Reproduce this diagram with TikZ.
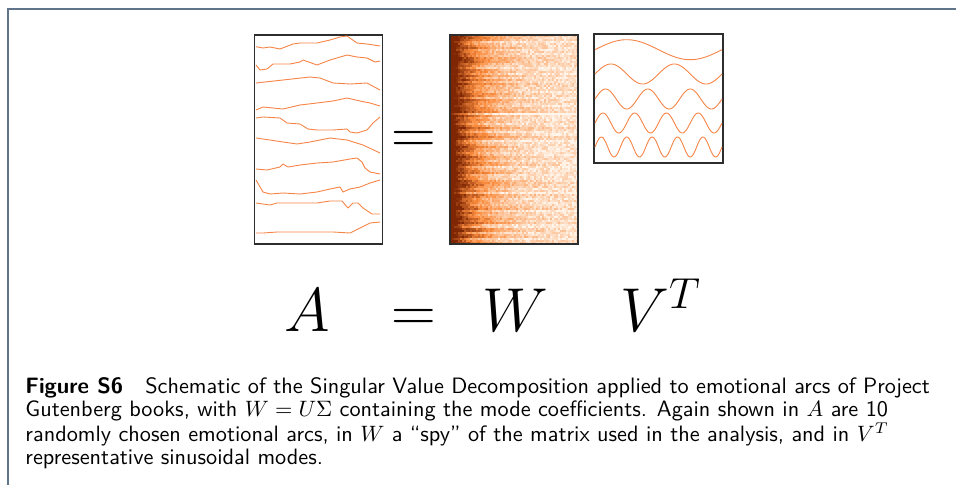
\RequirePackage{fix-cm}
\documentclass[tikz,border=0pt]{standalone}
\usepackage{xcolor}
\usepackage{tikz}
\usetikzlibrary{positioning}
\definecolor{framegray}{RGB}{96,116,140}
\definecolor{boxedge}{RGB}{45,45,45}
\definecolor{arcorange}{RGB}{246,132,70}
\definecolor{orpale}{RGB}{255,245,235}
\definecolor{ormid}{RGB}{250,140,62}
\definecolor{ordark}{RGB}{127,39,4}
\tikzset{
 matbox/.style={
 rectangle,
 draw=boxedge,
 line width=1.4pt,
 inner sep=0pt
 },
 arcline/.style={draw=arcorange, line width=0.9pt, line join=round},
 bigsym/.style={inner sep=0pt, font=\fontsize{62}{70}\selectfont},
 captext/.style={align=left, inner sep=0pt, scale=2.225, transform shape,
 font=\fontsize{10}{8.67}\selectfont\sffamily}
}

\begin{document}
\begin{tikzpicture}[x=1pt, y=-1pt]
 \useasboundingbox (0,0) rectangle (956,485);
 \draw[framegray, line width=1.2pt] (956,9) -- (8,9) -- (8,485);

 % spy of W
 \pgfmathsetseed{4217}
 \foreach \r in {0,...,103} {
 \pgfmathsetmacro\rowshift{5*rand}
 \pgfmathsetmacro\rowlen{0.13+0.16*rnd}
 \pgfmathsetmacro\rowgap{rnd}
 \ifdim\rowgap pt<0.025pt \pgfmathsetmacro\rowshift{-35}\fi
 \foreach \c in {0,...,63} {
 \pgfmathsetmacro\v{max(0,min(100,120*exp(-((\c+0.5)/64)/\rowlen)+24*rnd-4+\rowshift))}
 \ifdim\v pt<50pt
 \pgfmathsetmacro\lo{2*\v}
 \fill[ormid!\lo!orpale] (450+\c*2,35+\r*2.01) rectangle ++(2.1,2.1);
 \else
 \pgfmathsetmacro\hi{2*\v-100}
 \fill[ordark!\hi!ormid] (450+\c*2,35+\r*2.01) rectangle ++(2.1,2.1);
 \fi
 }
 }

 \node[matbox, minimum width=128, minimum height=209] (boxW) at (514,139.5) {};
 \node[matbox, minimum width=128, minimum height=209] (boxA) at (318.5,139.5) {};
 \node[matbox, minimum width=129, minimum height=129] (boxV) at (658.5,98.5) {};

 % emotional arcs in A
 \draw[arcline] plot coordinates {(256,46.7) (263,48) (270,47) (280,49) (293,44) (300,43) (317,43) (330,40) (340,37) (347,36) (357,43) (367,44) (380,46)};
 \draw[arcline] plot coordinates {(256,65) (260,70) (267,69) (273,64) (290,64) (300,62) (303,60) (317,65) (330,60) (347,55) (357,57) (367,58) (375,62) (380,61)};
 \draw[arcline] plot coordinates {(256,83) (283,80) (310,77) (320,78) (333,83) (350,84) (367,83) (380,90)};
 \draw[arcline] plot coordinates {(256,110) (263,107) (283,109) (300,105) (317,103) (333,101) (347,98) (360,101) (370,103) (380,106)};
 \draw[arcline] plot coordinates {(256,118) (263,117) (280,118) (287,123) (300,124) (308,129) (317,130) (333,130) (347,129) (350,132) (357,133) (367,130) (373,123) (380,117)};
 \draw[arcline] plot coordinates {(256,138) (270,140) (283,142) (297,144) (310,142) (330,138) (347,140) (363,145) (380,153)};
 \draw[arcline] plot coordinates {(256,169) (267,170) (280,167) (283,164) (288,167) (300,165) (317,163) (333,162) (350,159) (357,158) (362,162) (365,168) (370,172) (380,174)};
 \draw[arcline] plot coordinates {(256,180) (263,192) (270,194) (283,193) (300,194) (317,192) (330,189) (340,187) (343,192) (350,189) (360,187) (370,183) (380,180)};
 \draw[arcline] plot coordinates {(256,203) (270,205) (277,203) (300,203) (317,203) (330,201) (342,201) (348,208) (353,203) (358,203) (363,208) (372,214) (380,214)};
 \draw[arcline] plot coordinates {(256,233) (263,233) (277,232) (297,232) (310,232) (333,232) (350,233) (360,228) (370,223) (380,222)};

 % sinusoidal modes in V^T
 \foreach \k/\cy in {1/49.7, 2/74, 3/99, 4/123, 5/147}
 \draw[arcline] plot[domain=0:127, samples=150] ({595+\x}, {\cy-10*sin((\k*360/127)*\x)});

 \node[bigsym, anchor=base] (eqtop) at (413.5,153) {$=$};

 \node[bigsym, anchor=base] (symA) at (307,331) {$A$};
 \node[bigsym, anchor=base] (eqbot) at (413.5,331) {$=$};
 \node[bigsym, anchor=base] (symW) at (515,331) {$W$};
 \node[bigsym, anchor=base west] (symV) at (620,331) {$V^T$};

 \node[captext, anchor=north west] (caption) at (25,377.5) {\textbf{Figure S6}\quad Schematic of the Singular Value Decomposition applied to emotional arcs of Project\\
 Gutenberg books, with $W=U\Sigma$ containing the mode coefficients. Again shown in $A$ are 10\\
 randomly chosen emotional arcs, in $W$ a ``spy'' of the matrix used in the analysis, and in $V^T$\\
 representative sinusoidal modes.};
\end{tikzpicture}
\end{document}
